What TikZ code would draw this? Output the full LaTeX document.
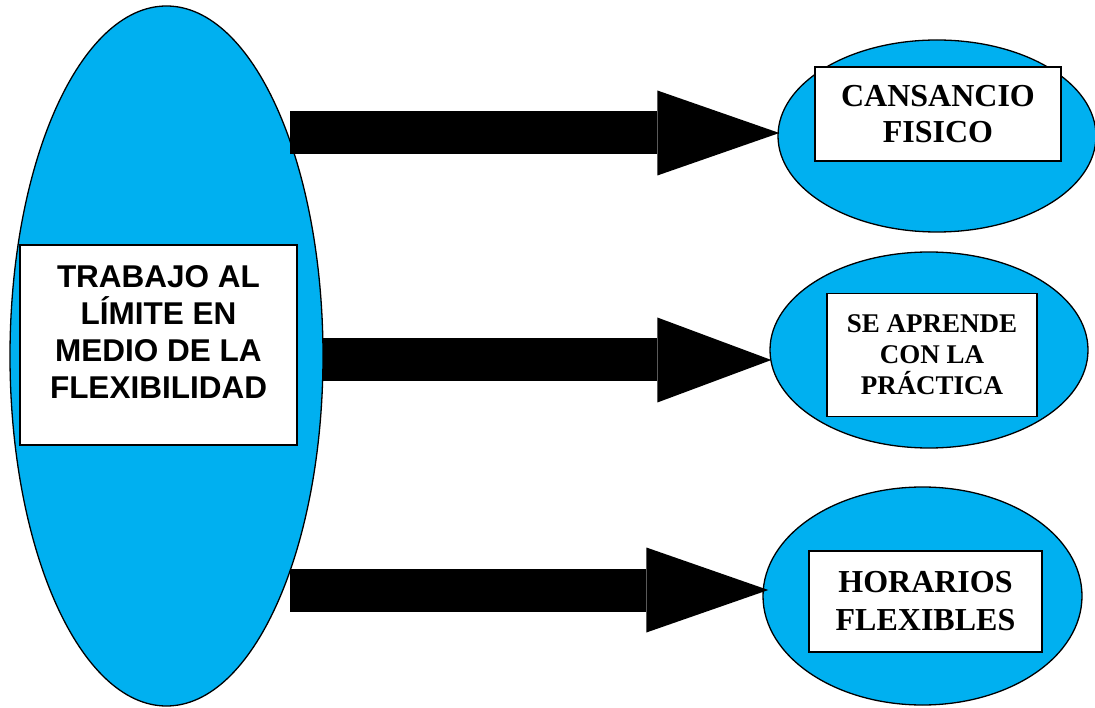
\documentclass[tikz,border=0pt]{standalone}
\usepackage{fontspec}
\setmainfont{Liberation Serif}
\setsansfont{Liberation Sans}
\usetikzlibrary{arrows.meta,shapes,calc}
\definecolor{ovalblue}{HTML}{00B0F0}

\begin{document}
\begin{tikzpicture}[x=1pt,y=-1pt,
oval/.style={ellipse, draw=black, line width=1.3pt, fill=ovalblue, inner sep=0pt},
box/.style={rectangle, draw=black, line width=1.5pt, fill=white, align=center, inner sep=0pt},
fat/.style={line width=43pt, -{Triangle[length=#1,width=85pt,line width=0pt]}}]
\useasboundingbox (0,0) rectangle (1095,708);

\node[oval, minimum width=313pt, minimum height=700pt] (tE) at (166.5,356) {};
\node[oval, minimum width=318pt, minimum height=192pt] (cE) at (937,136) {};
\node[oval, minimum width=318pt, minimum height=196pt] (pE) at (929,350) {};
\node[oval, minimum width=319pt, minimum height=218pt] (hE) at (922.5,596) {};

\node[box, minimum width=277pt, minimum height=200pt] (tB) at (158.5,345) {};
\node[align=center, font=\sffamily\bfseries\fontsize{31.5}{37}\selectfont] (tT) at ($(tB)+(0,-13)$) {TRABAJO AL\\LÍMITE EN\\MEDIO DE LA\\FLEXIBILIDAD};
\node[box, minimum width=246pt, minimum height=94pt, font=\bfseries\fontsize{32}{36.7}\selectfont] (cB) at (938,114) {CANSANCIO\\FISICO};
\node[box, minimum width=210pt, minimum height=123pt, font=\bfseries\fontsize{27}{31}\selectfont] (pB) at (932,355) {SE APRENDE\\CON LA\\PRÁCTICA};
\node[box, minimum width=233pt, minimum height=101pt, font=\bfseries\fontsize{32}{38}\selectfont] (hB) at (925.5,601.5) {HORARIOS\\FLEXIBLES};

\coordinate (aC) at (290,133);
\coordinate (aP) at (323,360);
\coordinate (aH) at (290,590);

\path[fat=122pt] (aC) edge[shorten >=-2pt] (aC -| cE.west);
\path[fat=114pt] (aP) edge[shorten >=-2pt] (aP -| pE.west);
\path[fat=122pt] (aH) edge[shorten >=-6pt] (aH -| hE.west);

\end{tikzpicture}
\end{document}
